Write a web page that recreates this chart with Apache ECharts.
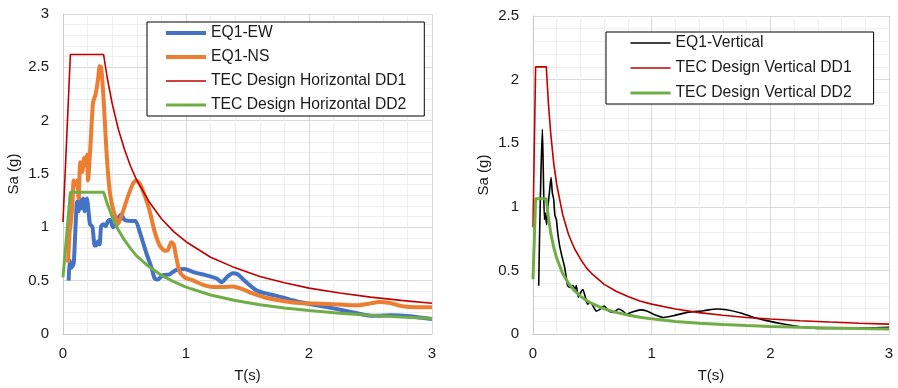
<!DOCTYPE html>
<html>
<head>
<meta charset="utf-8">
<script src="https://cdn.jsdelivr.net/npm/echarts@6/dist/echarts.min.js"></script>
<style>
  html, body { margin: 0; padding: 0; background: #fff; }
  #chart { width: 898px; height: 388px; }
</style>
</head>
<body>
<div id="chart"></div>
<script>
// horizontal record (left panel)
const ewT = [0.046, 0.054, 0.068, 0.087, 0.10, 0.114, 0.127, 0.135, 0.149, 0.163, 0.176, 0.195, 0.21, 0.22, 0.24, 0.257, 0.27, 0.285, 0.298, 0.31, 0.33, 0.347, 0.366, 0.385, 0.406, 0.428, 0.455, 0.474, 0.50, 0.556, 0.59, 0.623, 0.68, 0.72, 0.745, 0.77, 0.81, 0.867, 0.92, 0.99, 1.06, 1.165, 1.25, 1.29, 1.33, 1.38, 1.42, 1.49, 1.57, 1.63, 1.73, 1.82, 1.92, 2.06, 2.20, 2.33, 2.47, 2.55, 2.66, 2.82, 3.0];
const ewSa = [0.50, 0.69, 0.62, 0.66, 0.96, 1.24, 1.15, 1.27, 1.18, 1.27, 1.15, 1.27, 1.12, 1.03, 1.0, 0.83, 0.83, 0.87, 0.84, 1.01, 1.03, 1.01, 1.06, 1.07, 1.0, 1.03, 1.10, 1.12, 1.07, 1.06, 1.06, 0.96, 0.75, 0.62, 0.52, 0.51, 0.55, 0.56, 0.60, 0.61, 0.58, 0.55, 0.52, 0.485, 0.53, 0.57, 0.56, 0.485, 0.41, 0.385, 0.36, 0.33, 0.30, 0.27, 0.24, 0.21, 0.175, 0.17, 0.176, 0.167, 0.14];

const nsT = [0.041, 0.054, 0.062, 0.076, 0.087, 0.10, 0.114, 0.127, 0.14, 0.157, 0.171, 0.184, 0.195, 0.203, 0.222, 0.244, 0.266, 0.285, 0.298, 0.31, 0.33, 0.352, 0.374, 0.393, 0.42, 0.447, 0.488, 0.528, 0.569, 0.596, 0.623, 0.664, 0.705, 0.745, 0.786, 0.827, 0.854, 0.88, 0.90, 0.92, 0.95, 0.99, 1.06, 1.14, 1.22, 1.30, 1.38, 1.46, 1.54, 1.65, 1.79, 1.92, 2.06, 2.20, 2.33, 2.41, 2.49, 2.57, 2.66, 2.76, 2.87, 3.0];
const nsSa = [0.67, 0.96, 1.03, 1.21, 1.44, 1.40, 1.44, 1.27, 1.61, 1.52, 1.65, 1.58, 1.68, 1.44, 1.74, 2.17, 2.25, 2.39, 2.51, 2.50, 2.20, 1.74, 1.40, 1.24, 1.12, 1.03, 1.15, 1.29, 1.41, 1.44, 1.41, 1.30, 1.15, 0.96, 0.83, 0.78, 0.79, 0.86, 0.84, 0.72, 0.58, 0.53, 0.50, 0.46, 0.44, 0.44, 0.445, 0.42, 0.38, 0.34, 0.31, 0.29, 0.285, 0.28, 0.27, 0.27, 0.285, 0.30, 0.29, 0.26, 0.25, 0.25];

const designHT = [0, 0.06, 0.33, 0.36, 0.4, 0.45, 0.5, 0.55, 0.6, 0.7, 0.8, 0.9, 1.0, 1.2, 1.4, 1.6, 1.8, 2.0, 2.25, 2.5, 2.75, 3.0];
const dd1H = [1.05, 2.62, 2.62, 2.40, 2.16, 1.92, 1.73, 1.57, 1.44, 1.24, 1.08, 0.96, 0.865, 0.72, 0.62, 0.54, 0.48, 0.43, 0.385, 0.346, 0.315, 0.288];
const dd2H = [0.53, 1.33, 1.33, 1.22, 1.10, 0.975, 0.88, 0.80, 0.73, 0.63, 0.55, 0.49, 0.44, 0.366, 0.314, 0.274, 0.244, 0.22, 0.195, 0.176, 0.16, 0.146];

// vertical record (right panel)
const vtT = [0.048, 0.056, 0.067, 0.079, 0.087, 0.096, 0.104, 0.115, 0.126, 0.138, 0.152, 0.163, 0.174, 0.185, 0.197, 0.208, 0.225, 0.244, 0.264, 0.278, 0.292, 0.315, 0.337, 0.354, 0.365, 0.382, 0.404, 0.42, 0.438, 0.46, 0.483, 0.506, 0.534, 0.567, 0.60, 0.638, 0.68, 0.72, 0.758, 0.79, 0.843, 0.904, 0.96, 1.03, 1.10, 1.185, 1.30, 1.44, 1.55, 1.63, 1.75, 1.86, 1.97, 2.11, 2.25, 2.39, 2.67, 3.0];
const vtSa = [0.38, 0.80, 1.27, 1.61, 1.27, 0.90, 0.95, 0.86, 1.0, 1.11, 1.23, 1.11, 1.06, 0.93, 0.90, 0.80, 0.69, 0.61, 0.535, 0.46, 0.38, 0.365, 0.38, 0.35, 0.38, 0.29, 0.33, 0.35, 0.30, 0.235, 0.25, 0.22, 0.18, 0.196, 0.22, 0.18, 0.17, 0.196, 0.18, 0.157, 0.175, 0.19, 0.18, 0.15, 0.13, 0.144, 0.17, 0.183, 0.196, 0.19, 0.165, 0.13, 0.105, 0.078, 0.057, 0.044, 0.044, 0.052];

const designVT = [0, 0.022, 0.112, 0.13, 0.15, 0.175, 0.2, 0.25, 0.3, 0.35, 0.4, 0.45, 0.5, 0.6, 0.7, 0.8, 0.9, 1.0, 1.2, 1.4, 1.6, 1.8, 2.0, 2.25, 2.5, 2.75, 3.0];
const dd1V = [0.84, 2.1, 2.1, 1.81, 1.57, 1.34, 1.175, 0.94, 0.78, 0.67, 0.59, 0.52, 0.47, 0.39, 0.336, 0.294, 0.26, 0.235, 0.196, 0.168, 0.147, 0.13, 0.1175, 0.104, 0.094, 0.085, 0.078];
const dd2V = [0.43, 1.064, 1.064, 0.915, 0.79, 0.68, 0.595, 0.476, 0.397, 0.34, 0.298, 0.264, 0.238, 0.198, 0.17, 0.149, 0.132, 0.119, 0.099, 0.085, 0.074, 0.066, 0.0595, 0.053, 0.048, 0.043, 0.040];

const zip = (xs, ys) => xs.map((x, i) => [x, ys[i]]);

const FONT = "Liberation Sans, Arial, sans-serif";

const styles = {
  "EQ1-EW": ["#4472C4", 4],
  "EQ1-NS": ["#ED7D31", 4],
  "TEC Design Horizontal DD1": ["#C00000", 1.6],
  "TEC Design Horizontal DD2": ["#70AD47", 3],
  "EQ1-Vertical": ["#000000", 1.6],
  "TEC Design Vertical DD1": ["#C00000", 1.6],
  "TEC Design Vertical DD2": ["#70AD47", 3],
};

function xAxisFor(gridIndex) {
  return {
    gridIndex: gridIndex,
    type: "value",
    min: 0,
    max: 3,
    interval: 1,
    name: "T(s)",
    nameLocation: "middle",
    nameGap: 34,
    nameTextStyle: { color: "#1a1a1a", fontSize: 15, fontFamily: FONT },
    axisLine: { show: true, lineStyle: { color: "#c8c8c8", width: 1 } },
    axisTick: { show: false },
    axisLabel: { color: "#1a1a1a", fontSize: 15, fontFamily: FONT, margin: 12 },
    splitLine: { show: true, lineStyle: { color: "#d9d9d9", width: 1 } },
    minorTick: { show: false, splitNumber: 5 },
    minorSplitLine: { show: true, lineStyle: { color: "#eeeeee", width: 1 } },
  };
}

function yAxisFor(gridIndex, max) {
  return {
    gridIndex: gridIndex,
    type: "value",
    min: 0,
    max: max,
    interval: 0.5,
    name: "Sa (g)",
    nameLocation: "middle",
    nameGap: 42,
    nameRotate: 90,
    nameTextStyle: { color: "#1a1a1a", fontSize: 15, fontFamily: FONT },
    axisLine: { show: true, lineStyle: { color: "#c8c8c8", width: 1 } },
    axisTick: { show: false },
    axisLabel: { color: "#1a1a1a", fontSize: 15, fontFamily: FONT, margin: 14 },
    splitLine: { show: true, lineStyle: { color: "#d9d9d9", width: 1 } },
    minorTick: { show: false, splitNumber: 5 },
    minorSplitLine: { show: true, lineStyle: { color: "#eeeeee", width: 1 } },
  };
}

function lineSeries(name, data, axis, smooth) {
  const [color, width] = styles[name];
  return {
    name: name,
    type: "line",
    xAxisIndex: axis,
    yAxisIndex: axis,
    data: data,
    showSymbol: false,
    symbol: "none",
    smooth: smooth,
    lineStyle: { color: color, width: width },
    itemStyle: { color: color },
    emphasis: { disabled: true },
  };
}

function legendFor(names, left, top, padding, gap) {
  return {
    data: names.map((n) => ({
      name: n,
      lineStyle: { color: styles[n][0], width: styles[n][1] },
    })),
    orient: "vertical",
    left: left,
    top: top,
    padding: padding,
    itemGap: gap,
    itemWidth: 40,
    itemHeight: 14,
    itemStyle: { opacity: 0 },
    backgroundColor: "#fff",
    borderColor: "#000",
    borderWidth: 1,
    borderRadius: 0,
    textStyle: { color: "#1a1a1a", fontSize: 15.7, fontFamily: FONT },
  };
}

const chart = echarts.init(document.getElementById("chart"));
chart.setOption({
  backgroundColor: "#fff",
  animation: false,
  grid: [
    { left: 63, top: 14, width: 369, height: 323 },
    { left: 533, top: 16, width: 356, height: 319 },
  ],
  xAxis: [xAxisFor(0), xAxisFor(1)],
  yAxis: [yAxisFor(0, 3), yAxisFor(1, 2.5)],
  legend: [
    legendFor(["EQ1-EW", "EQ1-NS", "TEC Design Horizontal DD1", "TEC Design Horizontal DD2"], 147, 22, [3, 18, 3, 17], 8),
    legendFor(["EQ1-Vertical", "TEC Design Vertical DD1", "TEC Design Vertical DD2"], 606, 32, [3, 22, 3, 23], 9),
  ],
  series: [
    lineSeries("EQ1-EW", zip(ewT, ewSa), 0, 0.2),
    lineSeries("EQ1-NS", zip(nsT, nsSa), 0, 0.2),
    lineSeries("TEC Design Horizontal DD1", zip(designHT, dd1H), 0, false),
    lineSeries("TEC Design Horizontal DD2", zip(designHT, dd2H), 0, false),
    lineSeries("EQ1-Vertical", zip(vtT, vtSa), 1, 0.2),
    lineSeries("TEC Design Vertical DD1", zip(designVT, dd1V), 1, false),
    lineSeries("TEC Design Vertical DD2", zip(designVT, dd2V), 1, false),
  ],
});
</script>
</body>
</html>
